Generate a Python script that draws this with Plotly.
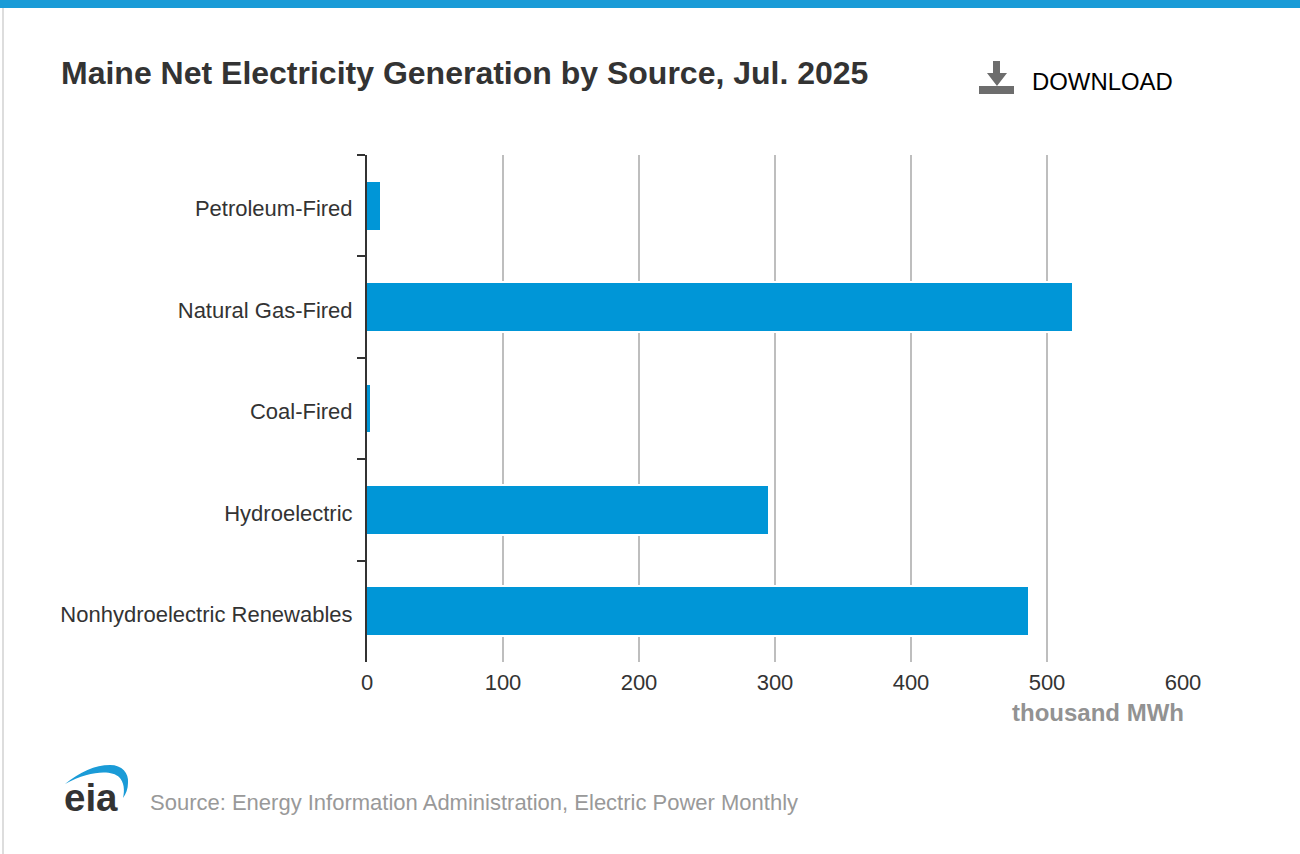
import plotly.graph_objects as go

categories = ["Petroleum-Fired", "Natural Gas-Fired", "Coal-Fired", "Hydroelectric", "Nonhydroelectric Renewables"]
values = [9.6, 518.5, 2, 295, 486]
x_ticks = [0, 100, 200, 300, 400, 500, 600]
title_text = "Maine Net Electricity Generation by Source, Jul. 2025"
unit_text = "thousand MWh"
source_text = "Source: Energy Information Administration, Electric Power Monthly"
download_text = "DOWNLOAD"

W, H = 1300, 854
FONT = "Liberation Sans"
BLUE = "#0096d7"
DARK = "#333333"


def px(x):
    return x / W


def py(y):
    return 1 - y / H


def svg(cmds):
    out = []
    for c in cmds:
        if isinstance(c, str):
            out.append(c)
        else:
            out.append(f"{px(c[0]):.5f},{py(c[1]):.5f}")
    return " ".join(out)


fig = go.Figure()
# white halo that interrupts the gridlines around each bar
fig.add_trace(go.Bar(y=categories, x=values, orientation="h", width=0.473,
                     marker=dict(color="white", line=dict(color="white", width=4)),
                     hoverinfo="skip", showlegend=False))
fig.add_trace(go.Bar(y=categories, x=values, orientation="h", width=0.473,
                     marker=dict(color=BLUE, line=dict(width=0)), showlegend=False))

shapes = [
    dict(type="rect", xref="paper", yref="paper", x0=0, x1=1, y0=py(8), y1=1,
         fillcolor="#1a9bd7", line_width=0),
    dict(type="rect", xref="paper", yref="paper", x0=px(2), x1=px(4), y0=0, y1=py(8),
         fillcolor="#dddddd", line_width=0),
    # download icon
    dict(type="rect", xref="paper", yref="paper", x0=px(979), x1=px(1014), y0=py(94), y1=py(86),
         fillcolor="#6d6d6d", line_width=0),
    dict(type="path", xref="paper", yref="paper", fillcolor="#6d6d6d", line_width=0,
         path=svg(["M", (993, 61), "L", (1000, 61), "L", (1000, 73), "L", (1007, 73), "L", (997, 86),
                   "L", (987, 73), "L", (993, 73), "Z"])),
    # eia logo arc
    dict(type="path", xref="paper", yref="paper", fillcolor="#1a9bd7", line_width=0,
         path=svg(["M", (65, 784), "C", (80, 772), (95, 765), (110, 765), "C", (122, 765), (129, 773), (128, 783),
                   "C", (128, 789), (126, 794), (123, 798), "C", (125, 790), (124, 782), (119, 777),
                   "C", (112, 770), (90, 770), (65, 784), "Z"])),
]


def note(text, x, y, size, color, anchor="left", bold=False):
    return dict(text=f"<b>{text}</b>" if bold else text, xref="paper", yref="paper", x=px(x), y=py(y),
                xanchor=anchor, yanchor="middle", showarrow=False,
                font=dict(family=FONT, size=size, color=color))


annotations = [
    note(title_text, 58.5, 73, 32, DARK, bold=True),
    note(download_text, 1030, 81, 23.9, "#000000"),
    note(unit_text, 1186, 712.5, 24, "#929292", anchor="right", bold=True),
    note(source_text, 148, 802.5, 22, "#999999"),
    note("eia", 62, 797, 38.5, DARK, bold=True),
]

fig.update_layout(
    width=W, height=H, margin=dict(l=0, r=0, t=0, b=0, autoexpand=False),
    paper_bgcolor="white", plot_bgcolor="white",
    barmode="overlay", bargap=0, showlegend=False,
    font=dict(family=FONT, size=22, color=DARK),
    shapes=shapes, annotations=annotations,
    xaxis=dict(domain=[px(367), px(1183)], range=[0, 600], tickmode="array", tickvals=x_ticks,
               showgrid=True, gridcolor="#bebebe", gridwidth=2, zeroline=False, showline=False, ticks="",
               ticklabelstandoff=5,
               tickfont=dict(family=FONT, size=22, color=DARK), anchor="y"),
    yaxis=dict(domain=[py(662), py(155)], type="category", categoryorder="array",
               categoryarray=categories, autorange="reversed", tickson="boundaries", ticks="outside",
               ticklen=8, tickwidth=2, tickcolor=DARK, showline=True, linecolor=DARK, linewidth=2,
               showgrid=False, zeroline=False, layer="above traces",
               ticklabelstandoff=8, ticklabelshift=-3,
               tickfont=dict(family=FONT, size=22, color=DARK), anchor="x"),
)

fig.write_html("out.html", config=dict(displayModeBar=False),
               post_script="document.body.style.margin='0';")
